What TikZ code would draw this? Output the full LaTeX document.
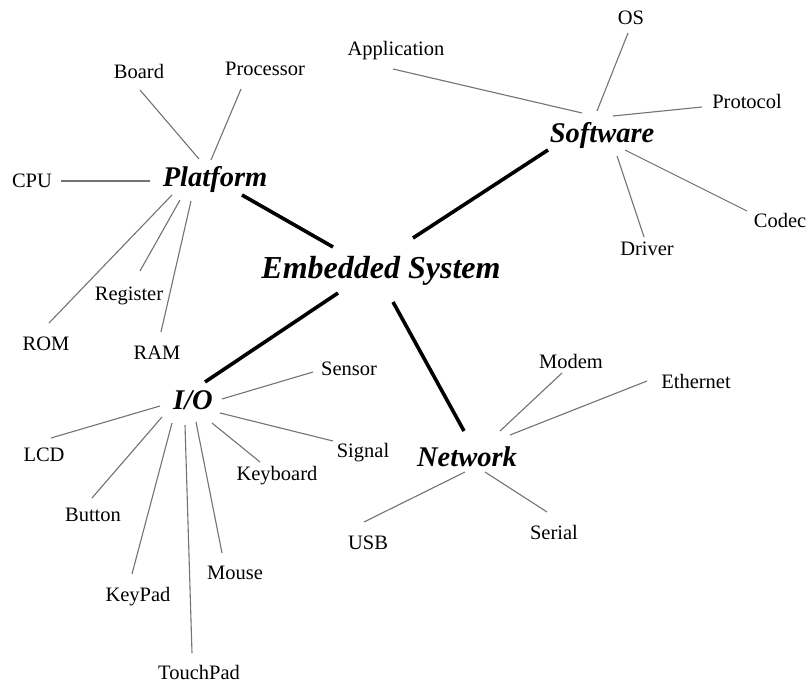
\documentclass[tikz,border=0pt]{standalone}
\usepackage{fontspec}
\setmainfont{Liberation Serif}
\begin{document}
\begin{tikzpicture}[x=1pt,y=-1pt,
  leaf/.style={inner sep=0pt,font=\fontsize{20.5}{22}\selectfont,text height=14pt,text depth=0pt,anchor=center},
  hub/.style={inner sep=0pt,font=\fontsize{28.5}{30}\selectfont\bfseries\itshape,text height=19pt,text depth=0pt,anchor=center},
  root/.style={inner sep=0pt,font=\fontsize{32}{34}\selectfont\bfseries\itshape,text height=21pt,text depth=0pt,anchor=center},
  spoke/.style={draw=black!55,line width=1.1pt},
  trunk/.style={draw=black,line width=3.6pt}]
\useasboundingbox[fill=white] (0,0) rectangle (810,684);
% hubs
\node[root] (es) at (381,268) {Embedded System};
\node[hub] (plat) at (215,177) {Platform};
\node[hub] (soft) at (602,133) {Software};
\node[hub] (io) at (193,400) {I/O};
\node[hub] (net) at (467,457) {Network};
% platform leaves
\node[leaf] (board) at (139,72) {Board};
\node[leaf] (proc) at (265,69) {Processor};
\node[leaf] (cpu) at (32,181) {CPU};
\node[leaf] (rom) at (46,343) {ROM};
\node[leaf] (reg) at (129,293) {Register};
\node[leaf] (ram) at (157,352) {RAM};
% software leaves
\node[leaf] (app) at (396,49) {Application};
\node[leaf] (os) at (631,18) {OS};
\node[leaf] (prot) at (747,102) {Protocol};
\node[leaf] (codec) at (780,221) {Codec};
\node[leaf] (drv) at (647,249) {Driver};
% io leaves
\node[leaf] (sensor) at (349,368) {Sensor};
\node[leaf] (lcd) at (44,454) {LCD};
\node[leaf] (button) at (93,514) {Button};
\node[leaf] (keypad) at (138,594) {KeyPad};
\node[leaf] (touch) at (199,672) {TouchPad};
\node[leaf] (mouse) at (235,572) {Mouse};
\node[leaf] (kbd) at (277,473) {Keyboard};
\node[leaf] (signal) at (363,450) {Signal};
% network leaves
\node[leaf] (modem) at (571,361) {Modem};
\node[leaf] (eth) at (696,381) {Ethernet};
\node[leaf] (usb) at (368,542) {USB};
\node[leaf] (serial) at (554,532) {Serial};
% trunks
\draw[trunk] ([shift={(27,18)}]plat.center) -- ([shift={(-48,-21)}]es.center);
\draw[trunk] ([shift={(-54,17)}]soft.center) -- ([shift={(32,-30)}]es.center);
\draw[trunk] ([shift={(12,-18)}]io.center) -- ([shift={(-43,25)}]es.center);
\draw[trunk] ([shift={(-3,-26)}]net.center) -- ([shift={(12,34)}]es.center);
% platform spokes
\draw[spoke] ([shift={(1,18)}]board.center) -- ([shift={(-16,-18)}]plat.center);
\draw[spoke] ([shift={(-24,20)}]proc.center) -- ([shift={(-4,-17)}]plat.center);
\draw[spoke] ([shift={(29,0)}]cpu.center) -- ([shift={(-65,4)}]plat.center);
\draw[spoke] ([shift={(3,-20)}]rom.center) -- ([shift={(-43,18)}]plat.center);
\draw[spoke] ([shift={(11,-22)}]reg.center) -- ([shift={(-35,23)}]plat.center);
\draw[spoke] ([shift={(4,-20)}]ram.center) -- ([shift={(-24,24)}]plat.center);
% software spokes
\draw[spoke] ([shift={(-3,20)}]app.center) -- ([shift={(-20,-20)}]soft.center);
\draw[spoke] ([shift={(-3,15)}]os.center) -- ([shift={(-5,-22)}]soft.center);
\draw[spoke] ([shift={(-45,5)}]prot.center) -- ([shift={(11,-17)}]soft.center);
\draw[spoke] ([shift={(-33,-10)}]codec.center) -- ([shift={(23,17)}]soft.center);
\draw[spoke] ([shift={(-3,-12)}]drv.center) -- ([shift={(15,23)}]soft.center);
% io spokes
\draw[spoke] ([shift={(-36,4)}]sensor.center) -- ([shift={(29,-1)}]io.center);
\draw[spoke] ([shift={(7,-16)}]lcd.center) -- ([shift={(-33,6)}]io.center);
\draw[spoke] ([shift={(-1,-16)}]button.center) -- ([shift={(-31,17)}]io.center);
\draw[spoke] ([shift={(-6,-20)}]keypad.center) -- ([shift={(-21,23)}]io.center);
\draw[spoke] ([shift={(-7,-19)}]touch.center) -- ([shift={(-8,25)}]io.center);
\draw[spoke] ([shift={(-13,-19)}]mouse.center) -- ([shift={(3,22)}]io.center);
\draw[spoke] ([shift={(-17,-11)}]kbd.center) -- ([shift={(19,23)}]io.center);
\draw[spoke] ([shift={(-30,-9)}]signal.center) -- ([shift={(27,13)}]io.center);
% network spokes
\draw[spoke] ([shift={(-9,12)}]modem.center) -- ([shift={(33,-26)}]net.center);
\draw[spoke] ([shift={(-49,0)}]eth.center) -- ([shift={(43,-22)}]net.center);
\draw[spoke] ([shift={(-4,-20)}]usb.center) -- ([shift={(-2,15)}]net.center);
\draw[spoke] ([shift={(-7,-20)}]serial.center) -- ([shift={(18,15)}]net.center);
\end{tikzpicture}
\end{document}
